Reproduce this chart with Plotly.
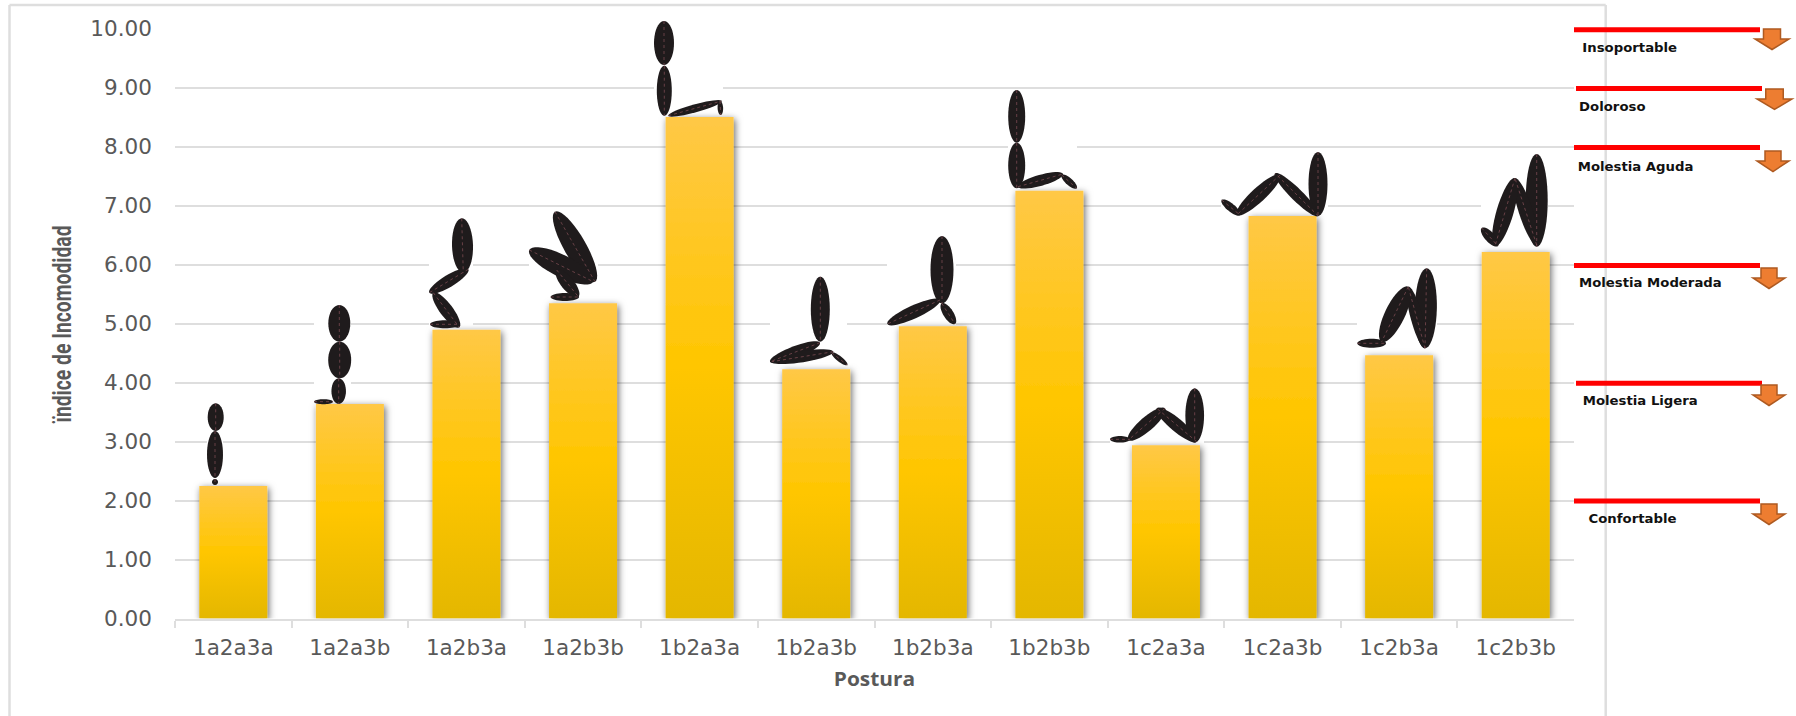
import math
import plotly.graph_objects as go

W, H = 1796, 716

# Chart data
posturas = ["1a2a3a", "1a2a3b", "1a2b3a", "1a2b3b", "1b2a3a", "1b2a3b",
            "1b2b3a", "1b2b3b", "1c2a3a", "1c2a3b", "1c2b3a", "1c2b3b"]
indice = [2.25, 3.64, 4.90, 5.35, 8.51, 4.23, 4.96, 7.26, 2.94, 6.83, 4.47, 6.22]
y_ticks = [0, 1, 2, 3, 4, 5, 6, 7, 8, 9, 10]

# Comfort scale: threshold value and its name
escala_valores = [10, 9, 8, 6, 4, 2]
escala_nombres = ["Insoportable", "Doloroso", "Molestia Aguda",
                  "Molestia Moderada", "Molestia Ligera", "Confortable"]

# Canvas layout of the plot area (pixels)
PX_L, PX_R, PY_T, PY_B = 175, 1574, 29.3, 618.5

# Scale decoration: line start, label anchor, arrow box (x left, x right, y top)
escala_linea_x = [1574, 1576, 1574, 1574, 1576, 1574]
escala_texto = [(1581, 47.5), (1577.5, 106.4), (1577.7, 166), (1579.5, 283), (1582, 400.5), (1587, 518)]
escala_flecha = [(1755, 1789, 29), (1757, 1792, 89), (1757, 1789, 151),
                 (1753, 1785, 268), (1753, 1785, 385), (1753, 1785, 504)]

# Posture pictograms: body segments as ellipses (x1, y1, x2, y2, thickness), canvas pixels
figuras = [
    [(215.7, 403.3, 215.7, 431, 16), (215, 431, 215, 478, 16), (215, 479, 215, 485, 6)],
    [(339.3, 305, 339.3, 341.7, 22), (339.7, 341.7, 339.7, 378.3, 23),
     (338.7, 378.3, 338.7, 404, 14.5), (314, 401.7, 333, 401.7, 5)],
    [(461.7, 218.3, 463.3, 272.7, 21), (468.3, 269.3, 429.3, 292.7, 12),
     (433.3, 292.7, 459.3, 327.3, 13), (430, 324.3, 460, 324.3, 8)],
    [(555, 211.7, 595, 281.7, 22), (529.3, 250, 593.3, 281.7, 22),
     (556.7, 270, 578.3, 296.7, 13), (550.7, 297, 579, 297, 8)],
    [(664, 21, 664, 65, 20), (664.3, 65.7, 664.3, 115.7, 15),
     (668.3, 115.7, 721.7, 101, 8), (720, 101, 720.7, 115, 5.5)],
    [(820.3, 276.7, 820.3, 341.7, 19), (820, 342.7, 770, 361.7, 12),
     (833.3, 351.7, 771.7, 361.7, 11), (831.7, 352.7, 847.3, 365, 5.5)],
    [(942, 236, 942, 303.3, 23), (940, 300, 887.3, 324, 13), (941.7, 303.3, 955, 324, 10)],
    [(1016.7, 90, 1016.7, 142.7, 17), (1016.7, 142.7, 1016.7, 188.3, 17),
     (1018, 186.7, 1063, 174, 11), (1061.7, 175, 1076.7, 188.3, 7)],
    [(1194.7, 388.3, 1194.7, 442.7, 18.7), (1196.7, 441.7, 1156.7, 408.3, 13),
     (1165, 408.3, 1128.3, 440, 14), (1110, 439.3, 1130, 439.3, 6.5)],
    [(1318, 152, 1318, 216, 19), (1318.3, 216, 1275, 173.3, 12),
     (1280, 175, 1236.7, 215, 14), (1221.7, 200, 1240, 215, 8)],
    [(1426.7, 268.3, 1425, 348.3, 22), (1425, 348.3, 1408.3, 286.7, 12),
     (1408.3, 286.7, 1381.7, 341.7, 20), (1357.3, 343.3, 1386, 343.3, 9)],
    [(1536.7, 154, 1536.7, 246.7, 22), (1536.7, 245, 1515, 178.3, 14),
     (1515, 178, 1495, 246, 17), (1481.7, 228, 1498, 246, 10)],
]

# White backing behind each pictogram (x0, y0, x1, y1), canvas pixels
fondos = [
    (207, 403, 223, 486), (314, 305, 351, 404), (429, 218, 473, 330), (529, 210, 598, 303),
    (654, 21, 723, 117), (770, 277, 847, 369), (887, 236, 956, 326), (1008, 90, 1077, 191),
    (1110, 388, 1204, 445), (1221, 152, 1328, 216), (1357, 268, 1437, 355), (1481, 154, 1548, 252),
]

GRIS = "#DEDEDE"
TEXTO = "#595959"


def fx(px):
    return px / W


def fy(py):
    return 1 - py / H


def cat_x(px):
    return (px - PX_L) / (PX_R - PX_L) * len(posturas) - 0.5


def val_y(py):
    return (PY_B - py) / (PY_B - PY_T) * 10


def val_py(v):
    return PY_B - v / 10 * (PY_B - PY_T)


def ellipse_path(x1, y1, x2, y2, t):
    cx, cy = (x1 + x2) / 2, (y1 + y2) / 2
    a = math.hypot(x2 - x1, y2 - y1) / 2
    ang = math.atan2(y2 - y1, x2 - x1)
    pts = []
    for k in range(40):
        u = 2 * math.pi * k / 40
        ex, ey = a * math.cos(u), t / 2 * math.sin(u)
        pts.append((cx + ex * math.cos(ang) - ey * math.sin(ang),
                    cy + ex * math.sin(ang) + ey * math.cos(ang)))
    return "M" + "L".join(f"{fx(p):.5f},{fy(q):.5f}" for p, q in pts) + "Z"


shapes = []

# Outer frame of the chart
for x0, y0, x1, y1 in [(9.5, 5, 9.5, H), (9.5, 5, 1605.7, 5), (1605.7, 5, 1605.7, H)]:
    shapes.append(dict(type="line", xref="paper", yref="paper", x0=fx(x0), y0=fy(y0), x1=fx(x1), y1=fy(y1),
                       line=dict(color="#DEDEDE", width=2.5), layer="below"))

# Backing panels interrupt the gridlines but stay under the bars
for x0, y0, x1, y1 in fondos:
    shapes.append(dict(type="rect", xref="x", yref="y", x0=cat_x(x0), x1=cat_x(x1), y0=val_y(y1), y1=val_y(y0),
                       fillcolor="#FFFFFF", line=dict(width=0), layer="between"))

# Pictograms with their dotted bone lines
for figura in figuras:
    for seg in figura:
        shapes.append(dict(type="path", xref="paper", yref="paper", path=ellipse_path(*seg),
                           fillcolor="#1F1B1C", line=dict(width=0), layer="above"))
    for x1, y1, x2, y2, _ in figura:
        shapes.append(dict(type="line", xref="paper", yref="paper", x0=fx(x1), y0=fy(y1), x1=fx(x2), y1=fy(y2),
                           line=dict(color="#7A4A50", width=0.8, dash="dot"), layer="above"))

# Scale thresholds, arrows and labels
annotations = []
for valor, nombre, lx, (tx, ty), (a0, a1, at) in zip(escala_valores, escala_nombres, escala_linea_x,
                                                     escala_texto, escala_flecha):
    ly = fy(val_py(valor) + 0.4)
    shapes.append(dict(type="line", xref="paper", yref="paper", x0=fx(lx), x1=fx(lx + 186), y0=ly, y1=ly,
                       line=dict(color="#FF0000", width=5), layer="above"))
    ancho = a1 - a0
    s0, s1 = a0 + ancho * 0.25, a0 + ancho * 0.75
    amid, ab, aw = at + 10, at + 20.5, (a0 + a1) / 2
    pts = [(s0, at), (s1, at), (s1, amid), (a1, amid), (aw, ab), (a0, amid), (s0, amid)]
    shapes.append(dict(type="path", xref="paper", yref="paper",
                       path="M" + "L".join(f"{fx(p):.5f},{fy(q):.5f}" for p, q in pts) + "Z",
                       fillcolor="#ED7D31", line=dict(color="#AE5A21", width=1.5), layer="above"))
    annotations.append(dict(xref="paper", yref="paper", x=fx(tx), y=fy(ty), text=nombre,
                            showarrow=False, xanchor="left", yanchor="middle", xshift=1.5,
                            font=dict(family="DejaVu Sans", size=12.5, color="#111111", weight="bold")))

fig = go.Figure(go.Bar(x=posturas, y=indice, marker=dict(color="#FFC600", line=dict(width=0)), width=0.583))

fig.update_layout(
    width=W, height=H, margin=dict(l=0, r=0, t=0, b=0),
    paper_bgcolor="#FFFFFF", plot_bgcolor="#FFFFFF", showlegend=False,
    shapes=shapes, annotations=annotations,
    xaxis=dict(
        domain=[fx(PX_L), fx(PX_R)], type="category", automargin=False,
        tickson="boundaries", ticks="outside", ticklen=7, tickcolor=GRIS, tickwidth=2,
        showline=True, linecolor=GRIS, linewidth=2, showgrid=False,
        tickfont=dict(family="DejaVu Sans", size=20.5, color=TEXTO), ticklabelstandoff=10,
        title=dict(text="Postura", standoff=14, font=dict(family="Open Sans", size=19, color=TEXTO, weight="bold")),
    ),
    yaxis=dict(
        domain=[fy(PY_B), fy(PY_T)], range=[0, 10], tickvals=y_ticks, tickformat=".2f", automargin=False,
        ticks="", showline=False, showgrid=True, gridcolor=GRIS, gridwidth=2, zeroline=False,
        tickfont=dict(family="DejaVu Sans", size=20.5, color=TEXTO), ticklabelstandoff=22,
        title=dict(text="ïndice de Incomodidad", standoff=14,
                   font=dict(family="Roboto", size=25, color=TEXTO, weight="bold")),
    ),
)

# Vertical gradient and soft shadow on the bars; text widened or condensed to its final width
bar_style = """
var gd = document.getElementById('{plot_id}');
var svg = gd.querySelector('.main-svg');
var ns = 'http://www.w3.org/2000/svg';
var defs = document.createElementNS(ns, 'defs');
defs.innerHTML = '<linearGradient id="barFill" x1="0" y1="0" x2="0" y2="1">' +
  '<stop offset="0" stop-color="#FFC846"/><stop offset="0.5" stop-color="#FFC600"/>' +
  '<stop offset="1" stop-color="#E4B700"/></linearGradient>' +
  '<filter id="barShadow" x="-30%" y="-5%" width="160%" height="110%">' +
  '<feDropShadow dx="1.5" dy="2" stdDeviation="3.5" flood-color="#000" flood-opacity="0.6"/></filter>';
svg.insertBefore(defs, svg.firstChild);
gd.querySelectorAll('.bars .point path').forEach(function (p) {
  p.style.setProperty('fill', 'url(#barFill)');
  p.style.setProperty('filter', 'url(#barShadow)');
});
function fit(selector, factor, fixed) {
  gd.querySelectorAll(selector).forEach(function (t) {
    var len = fixed || t.getComputedTextLength() * factor;
    t.setAttribute('textLength', len);
    t.setAttribute('lengthAdjust', 'spacingAndGlyphs');
  });
}
fit('.xtick text', 1.05);
fit('.ytick text', 1.05);
fit('.annotation-text', 1.06);
fit('.xtitle', 1.1);
fit('.ytitle', 1, 197);
"""

fig.write_html("out.html", post_script=bar_style)
